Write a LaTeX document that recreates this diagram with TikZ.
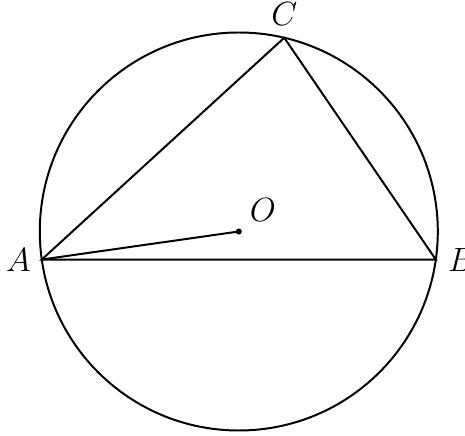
\documentclass[tikz,border=0pt]{standalone}
\usepackage{tikz}
\usetikzlibrary{positioning}

\begin{document}
\begin{tikzpicture}[x=1cm, y=1cm, line width=0.85pt, every node/.style={font=\fontsize{13.5}{16}\selectfont}]
\useasboundingbox (-3.60,-3.07) rectangle (3.41,3.49);
% ---- points on the circle
\coordinate (O) at (0,0);
\coordinate (A) at (188.1:3);
\coordinate (B) at (-8.1:3);
\coordinate (C) at (76.8:3);
% ---- circle, triangle, radius
\draw (O) circle (3);
\draw (A) -- (C) -- (B) -- cycle;
\draw (A) -- (O);
\fill (O) circle (1.3pt);
% ---- labels
\node[left=1pt of A] (labA) {$A$};
\node[right=1.5pt of B] (labB) {$B$};
\node[above=1.5pt of C] (labC) {$C$};
\node[above right=0.5pt and 1pt of O] (labO) {$O$};
\end{tikzpicture}
\end{document}
